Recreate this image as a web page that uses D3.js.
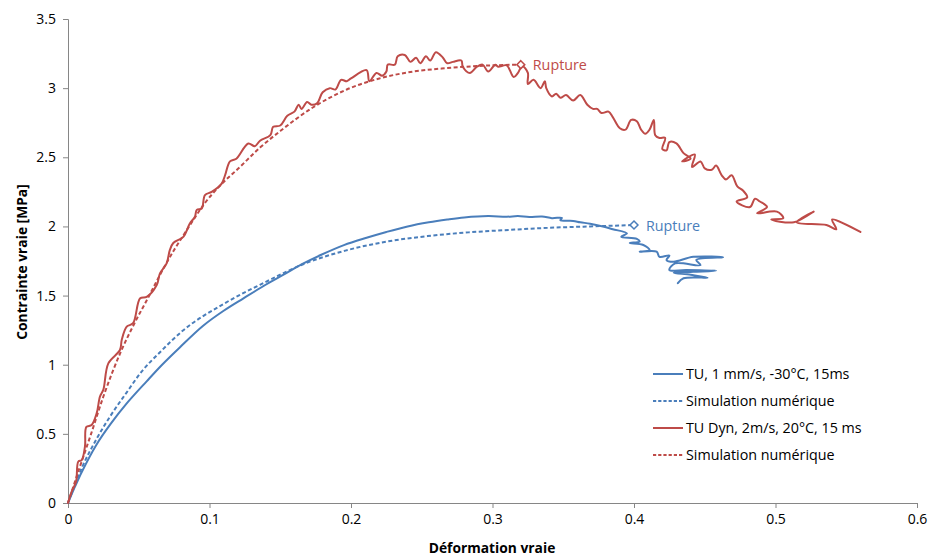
<!DOCTYPE html>
<html><head><meta charset="utf-8">
<script src="https://cdn.jsdelivr.net/npm/d3@7"></script>
<style>body{margin:0;background:#fff}svg{display:block}text{font-family:"Open Sans",sans-serif}</style>
</head><body><svg id="c" width="932" height="559"></svg>
<script>
// ---- data ----
const xTicks = [0, 0.1, 0.2, 0.3, 0.4, 0.5, 0.6];
const yTicks = [0, 0.5, 1, 1.5, 2, 2.5, 3, 3.5];
const seriesNames = ["TU, 1 mm/s, -30°C, 15ms", "Simulation numérique", "TU Dyn, 2m/s, 20°C, 15 ms", "Simulation numérique"];
const xTitle = "Déformation vraie";
const yTitle = "Contrainte vraie [MPa]";
const ruptureLabel = "Rupture";

const blueExp = [[0,0],[0.005,0.12],[0.01,0.23],[0.02,0.42],[0.03,0.57],[0.0415,0.72],[0.0556,0.88],[0.0665,1.0],[0.079,1.125],[0.0953,1.28],[0.11,1.39],[0.124,1.48],[0.14,1.58],[0.153,1.655],[0.165,1.725],[0.179,1.795],[0.195,1.865],[0.211,1.918],[0.225,1.96],[0.24,2.0],[0.255,2.03],[0.268,2.05],[0.28,2.065],[0.297,2.075],[0.31,2.07],[0.318,2.075],[0.326,2.068],[0.335,2.072],[0.342,2.06],[0.349,2.062],[0.348,2.045],[0.357,2.04],[0.362,2.03],[0.369,2.02],[0.378,2.0],[0.385,1.98],[0.395,1.95],[0.391,1.925],[0.402,1.91],[0.404,1.89],[0.397,1.88],[0.4066,1.866],[0.411,1.83],[0.404,1.817],[0.416,1.817],[0.418,1.78],[0.425,1.79],[0.423,1.757],[0.428,1.745],[0.442,1.78],[0.463,1.777],[0.444,1.757],[0.447,1.72],[0.429,1.733],[0.425,1.685],[0.437,1.685],[0.458,1.68],[0.442,1.672],[0.428,1.665],[0.44,1.65],[0.452,1.63],[0.435,1.625],[0.431,1.59]];
const blueSim = [[0,0],[0.01,0.26],[0.02,0.46],[0.03,0.63],[0.0415,0.8],[0.052,0.95],[0.065,1.09],[0.081,1.245],[0.11,1.44],[0.139,1.595],[0.167,1.73],[0.196,1.825],[0.225,1.89],[0.254,1.93],[0.283,1.957],[0.312,1.975],[0.34,1.99],[0.369,2.0],[0.4,2.01]];
const redExp = [[0,0],[0.0026,0.082],[0.0057,0.154],[0.0073,0.30],[0.0097,0.31],[0.012,0.41],[0.013,0.55],[0.0167,0.564],[0.0203,0.65],[0.0226,0.77],[0.025,0.82],[0.0285,1.01],[0.0367,1.106],[0.038,1.18],[0.0415,1.275],[0.046,1.30],[0.051,1.48],[0.0556,1.49],[0.0627,1.576],[0.065,1.66],[0.0697,1.733],[0.072,1.83],[0.0744,1.88],[0.0815,1.925],[0.086,2.02],[0.0897,2.07],[0.091,2.12],[0.0945,2.13],[0.0968,2.227],[0.1015,2.25],[0.1086,2.31],[0.111,2.37],[0.1145,2.47],[0.119,2.49],[0.1274,2.60],[0.132,2.58],[0.1357,2.62],[0.143,2.66],[0.145,2.72],[0.15,2.73],[0.155,2.80],[0.16,2.83],[0.163,2.88],[0.165,2.85],[0.169,2.90],[0.172,2.88],[0.176,2.89],[0.18,2.97],[0.185,3.0],[0.189,2.99],[0.193,3.06],[0.197,3.05],[0.2,3.07],[0.211,3.13],[0.213,3.05],[0.218,3.11],[0.222,3.09],[0.225,3.12],[0.226,3.17],[0.231,3.17],[0.233,3.23],[0.238,3.24],[0.242,3.19],[0.246,3.22],[0.249,3.18],[0.253,3.23],[0.256,3.20],[0.26,3.26],[0.265,3.22],[0.268,3.18],[0.272,3.19],[0.278,3.20],[0.279,3.155],[0.284,3.11],[0.289,3.155],[0.293,3.17],[0.297,3.12],[0.302,3.17],[0.304,3.155],[0.31,3.165],[0.315,3.08],[0.318,3.11],[0.321,3.16],[0.325,3.11],[0.325,3.03],[0.329,3.06],[0.334,3.0],[0.337,3.05],[0.338,3.0],[0.342,2.94],[0.345,2.96],[0.348,2.93],[0.352,2.95],[0.357,2.91],[0.362,2.95],[0.367,2.88],[0.371,2.85],[0.374,2.85],[0.377,2.82],[0.382,2.83],[0.385,2.79],[0.39,2.71],[0.394,2.70],[0.398,2.77],[0.402,2.76],[0.405,2.70],[0.408,2.67],[0.411,2.70],[0.414,2.77],[0.415,2.66],[0.418,2.64],[0.422,2.64],[0.42,2.56],[0.423,2.55],[0.425,2.61],[0.43,2.60],[0.435,2.53],[0.44,2.49],[0.434,2.47],[0.443,2.52],[0.441,2.43],[0.447,2.47],[0.45,2.42],[0.455,2.41],[0.458,2.44],[0.462,2.37],[0.465,2.34],[0.469,2.37],[0.473,2.29],[0.477,2.26],[0.48,2.21],[0.4725,2.18],[0.482,2.14],[0.4855,2.20],[0.489,2.18],[0.494,2.14],[0.487,2.095],[0.501,2.107],[0.5055,2.06],[0.497,2.05],[0.513,2.03],[0.527,2.107],[0.515,2.03],[0.536,2.01],[0.543,1.98],[0.54,2.05],[0.56,1.96]];
const redSim = [[0,0],[0.008,0.25],[0.016,0.49],[0.025,0.77],[0.0376,1.1],[0.047,1.3],[0.0564,1.48],[0.065,1.65],[0.075,1.83],[0.085,1.99],[0.0968,2.17],[0.107,2.29],[0.1215,2.43],[0.1357,2.57],[0.15,2.69],[0.173,2.86],[0.197,2.99],[0.22,3.07],[0.244,3.12],[0.268,3.145],[0.289,3.16],[0.32,3.17]];
const ruptures = [[0.4, 2.01], [0.32, 3.17]];

// ---- styles ----
const BLUE = "#4a7ebb", RED = "#be4b48";
const svg = d3.select("#c");
const x = d3.scaleLinear().domain([0, 0.6]).range([68, 917]);
const y = d3.scaleLinear().domain([0, 3.5]).range([503, 19]);

const xAxis = svg.append("g").attr("transform", "translate(0,503)")
  .call(d3.axisBottom(x).tickValues(xTicks).tickSize(5).tickPadding(6).tickFormat(d => String(d)));
const yAxis = svg.append("g").attr("transform", "translate(68,0)")
  .call(d3.axisLeft(y).tickValues(yTicks).tickSize(5).tickPadding(7).tickFormat(d => String(d)));
[xAxis, yAxis].forEach(g => {
  g.select(".domain").attr("stroke", "#868686");
  g.selectAll(".tick line").attr("stroke", "#868686");
  g.selectAll(".tick text").attr("font-size", 14).attr("fill", "#000").attr("font-family", "Open Sans");
});

svg.append("text").attr("x", 492).attr("y", 553).attr("text-anchor", "middle")
  .attr("font-size", 13.8).attr("font-weight", "bold").text(xTitle);
svg.append("text").attr("transform", "translate(27,262) rotate(-90)").attr("text-anchor", "middle")
  .attr("font-size", 13.8).attr("font-weight", "bold").text(yTitle);

const lineLin = d3.line().x(d => x(d[0])).y(d => y(d[1])).curve(d3.curveCatmullRom.alpha(0.5));
const lineSmooth = d3.line().x(d => x(d[0])).y(d => y(d[1])).curve(d3.curveMonotoneX);

const series = [
  {data: blueExp, color: BLUE, dash: null, gen: lineLin},
  {data: blueSim, color: BLUE, dash: "4,2.5", gen: lineSmooth},
  {data: redExp, color: RED, dash: null, gen: lineLin},
  {data: redSim, color: RED, dash: "4,2.5", gen: lineSmooth}
];
series.forEach(s => {
  svg.append("path").attr("d", s.gen(s.data)).attr("fill", "none").attr("stroke", s.color)
    .attr("stroke-width", 2).attr("stroke-linejoin", "round").attr("stroke-linecap", s.dash ? "butt" : "round")
    .attr("stroke-dasharray", s.dash);
});

// rupture markers
const rColors = [BLUE, RED];
ruptures.forEach((r, i) => {
  const cx = x(r[0]), cy = y(r[1]);
  svg.append("path").attr("d", d3.symbol(d3.symbolDiamond2, 40)()).attr("transform", `translate(${cx},${cy})`)
    .attr("fill", "#fff").attr("stroke", rColors[i]).attr("stroke-width", 1.5);
  svg.append("text").attr("x", cx + 12).attr("y", cy + 5.5).attr("font-size", 14.3).attr("fill", rColors[i]).text(ruptureLabel);
});

// legend
const legendY = [374, 401, 428, 455];
series.forEach((s, i) => {
  svg.append("line").attr("x1", 653).attr("x2", 683).attr("y1", legendY[i]).attr("y2", legendY[i])
    .attr("stroke", s.color).attr("stroke-width", 2).attr("stroke-dasharray", s.dash ? "3.2,2" : null);
  svg.append("text").attr("x", 686).attr("y", legendY[i] + 5).attr("font-size", 14.3).attr("fill", "#000").text(seriesNames[i]);
});
</script></body></html>
